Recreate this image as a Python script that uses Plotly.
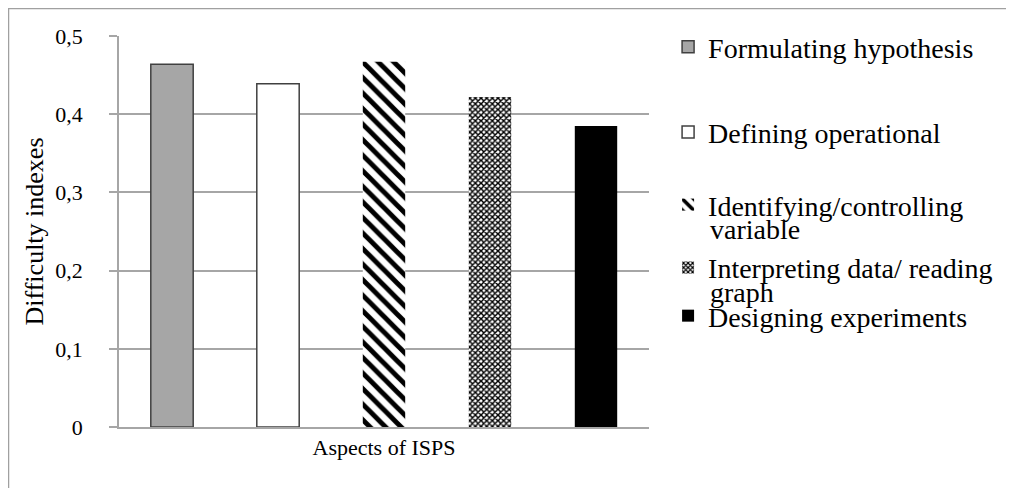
import plotly.graph_objects as go

category = ["Aspects of ISPS"]
series_names = [
    "Formulating hypothesis",
    "Defining operational",
    "Identifying/controlling",
    "Interpreting data/ reading",
    "Designing experiments",
]
second_lines = ["", "", "variable", "graph", ""]
values = [0.464, 0.439, 0.467, 0.422, 0.385]
y_ticks = [0, 0.1, 0.2, 0.3, 0.4, 0.5]

FONT = "Liberation Serif"
GRID = "#a6a6a6"

styles = [
    dict(color="#a6a6a6", line=dict(color="#404040", width=1.5)),
    dict(color="#ffffff", line=dict(color="#404040", width=1.5)),
    dict(color="#ffffff", line=dict(width=0),
         pattern=dict(shape="\\", fgcolor="#000000", bgcolor="#ffffff", fgopacity=1,
                      size=11, solidity=0.45)),
    dict(color="#ffffff", line=dict(width=0),
         pattern=dict(shape="x", fgcolor="#000000", bgcolor="#ffffff", fgopacity=1,
                      size=4, solidity=0.6)),
    dict(color="#000000", line=dict(width=0)),
]

legend_y = [0.972, 0.754, 0.568, 0.407, 0.284]
second_y = [None, None, 0.504, 0.345, None]
legend_ids = ["legend", "legend2", "legend3", "legend4", "legend5"]
LEG_X = 1.036
TEXT_X = 1.111
LEG_SIZE = 28

fig = go.Figure()
for name, val, st, lid in zip(series_names, values, styles, legend_ids):
    fig.add_trace(go.Bar(x=category, y=[val], name=name, marker=st, legend=lid))

layout_legends = {}
for lid, ly in zip(legend_ids, legend_y):
    layout_legends[lid] = dict(
        x=LEG_X, y=ly, xanchor="left", yanchor="middle",
        bgcolor="rgba(0,0,0,0)", borderwidth=0,
        font=dict(size=LEG_SIZE),
        itemclick=False,
    )

annotations = []
for txt, sy in zip(second_lines, second_y):
    if txt:
        annotations.append(dict(
            text=txt, xref="paper", yref="paper", x=TEXT_X, y=sy,
            xanchor="left", yanchor="middle", showarrow=False,
            font=dict(size=LEG_SIZE),
        ))

fig.update_layout(
    width=1014, height=488,
    margin=dict(l=111, r=373, t=28, b=69),
    paper_bgcolor="white", plot_bgcolor="white",
    barmode="group", bargap=0, bargroupgap=0.6,
    separators=", ",
    showlegend=True,
    font=dict(family=FONT, color="#000000", size=22),
    xaxis=dict(
        showline=True, linecolor=GRID, linewidth=1.5,
        ticks="", showgrid=False,
        tickfont=dict(size=22),
    ),
    yaxis=dict(
        range=[0, 0.5], tickvals=y_ticks,
        showline=True, linecolor=GRID, linewidth=1.5,
        ticks="outside", ticklen=8, tickcolor=GRID, tickwidth=1.5,
        showgrid=True, gridcolor=GRID, gridwidth=1.5,
        zeroline=False,
        ticklabelstandoff=22,
        tickfont=dict(size=22),
        title=dict(text="Difficulty indexes", standoff=4, font=dict(size=26)),
    ),
    annotations=annotations,
    shapes=[dict(type="rect", xref="paper", yref="paper",
                 x0=(0.5 - 111) / 530, x1=(1014 - 111) / 530,
                 y0=(419 - 488) / 391, y1=(419 - 0.5) / 391,
                 line=dict(color="#a0a0a0", width=1.5), fillcolor="rgba(0,0,0,0)", layer="below")],
    **layout_legends,
)

fig.write_html("out.html")
